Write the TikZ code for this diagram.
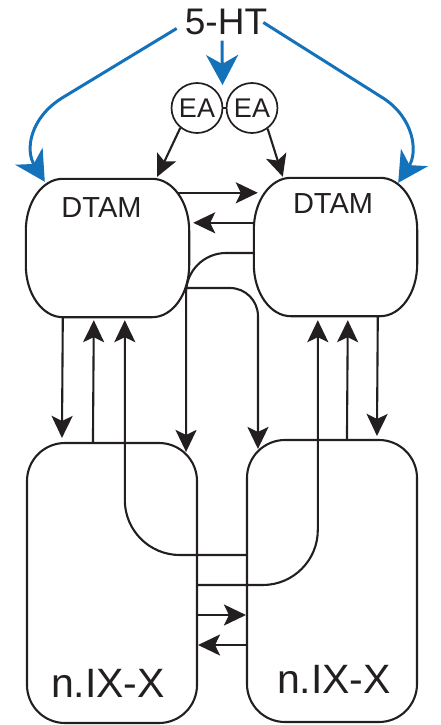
\documentclass[tikz,border=0pt]{standalone}
\usepackage{fontspec}
\setmainfont{Liberation Sans}
\usetikzlibrary{arrows.meta,shapes.geometric,calc}
\definecolor{ink}{RGB}{35,31,32}
\definecolor{htblue}{RGB}{20,114,187}

% outline of a DTAM box: flat top and bottom, elliptical corners
\newcommand\dtamoutline[1]{%
  \draw[line] ([xshift=37pt]#1.north west) -- ([xshift=-37pt]#1.north east)
    arc[start angle=90,end angle=0,x radius=37pt,y radius=52pt]
    -- ([yshift=52pt]#1.south east)
    arc[start angle=0,end angle=-90,x radius=37pt,y radius=52pt]
    -- ([xshift=37pt]#1.south west)
    arc[start angle=270,end angle=180,x radius=37pt,y radius=52pt]
    -- ([yshift=-52pt]#1.north west)
    arc[start angle=180,end angle=90,x radius=37pt,y radius=52pt] -- cycle;}

\begin{document}
\begin{tikzpicture}[x=1pt,y=-1pt,
  line/.style={line width=2.1pt, draw=ink},
  arr/.style={line, -{Stealth[length=22pt,width=21pt,inset=5pt]}},
  bluearr/.style={line width=3pt, draw=htblue, -{Stealth[length=30pt,width=32pt,inset=9pt]}},
  area/.style={inner sep=0pt, draw=none, rectangle},
  ea/.style={ellipse, draw=ink, line width=1.7pt, minimum width=47pt, minimum height=50pt,
    inner sep=0pt, font=\fontsize{27}{29}\selectfont, text=ink},
  lbl/.style={anchor=base, inner sep=0pt, text=ink}]
\useasboundingbox (0,0) rectangle (440,725);

% box regions
\node[area, minimum width=163pt, minimum height=138pt] (DL) at (107.5,248) {};
\node[area, minimum width=163pt, minimum height=138pt] (DR) at (335.5,247) {};
\node[area, line, draw=ink, rounded corners=38pt, minimum width=170pt, minimum height=280pt] (NL) at (112,583) {};
\node[area, line, draw=ink, rounded corners=38pt, minimum width=170pt, minimum height=282pt] (NR) at (332,581) {};
\dtamoutline{DL}
\dtamoutline{DR}

% labels
\node[lbl, font=\fontsize{29}{32}\selectfont] (tDL) at (101.5,217) {DTAM};
\node[lbl, font=\fontsize{29}{32}\selectfont] (tDR) at (333,213) {DTAM};
\node[lbl, font=\fontsize{41}{45}\selectfont] (tNL) at (108,697) {n.IX-X};
\node[lbl, font=\fontsize{41}{45}\selectfont] (tNR) at (334,693) {n.IX-X};
\node[lbl, font=\fontsize{37}{40}\selectfont] (ht) at (226,35) {5-HT};

% EA pair
\node[ea] (EA1) at (197,108) {EA};
\node[ea] (EA2) at (252,108) {EA};
\draw[line, line width=1.7pt] (EA1) -- (EA2);
\coordinate (EAtop) at ($(EA1)!0.5!(EA2)+(-2,-23)$);

% serotonin inputs
\draw[bluearr] ([xshift=-8pt,yshift=-6pt]ht.west) -- (62,98)
  .. controls (30,118) and (25,150) .. ($(DL.north west)+(19,3)$);
\draw[bluearr] ([xshift=-4pt]ht.east) -- (383,98)
  .. controls (414,118) and (418,152) .. ($(DR.north east)+(-19,5)$);
\draw[bluearr] ([xshift=-4pt,yshift=-5pt]ht.south) -- (EAtop);

% EA to DTAM
\draw[arr] (EA1.230) -- ($(DL.north east)+(-32,-2)$);
\draw[arr] (EA2.307) -- ($(DR.north west)+(29,-1)$);

% DTAM <-> DTAM
\draw[arr] ($(DL.north east)+(-12,14)$) -- ($(DR.north west)+(4,15)$);
\draw[arr] ($(DR.north west)+(1,45)$) -- ($(DL.north east)+(4,44)$);

% crossed descending paths
\draw[arr, rounded corners=40pt] ($(DR.west)+(0,6)$) -| ($(NL.north east)+(-12,10)$);
\draw[arr, rounded corners=28pt] ($(DL.east)+(-3,40)$) -| ($(NR.north west)+(12,10)$);

% crossed ascending paths
\draw[arr, rounded corners=55pt] ($(NR.west)+(0,-26)$) -| ($(DL.south west)+(99,3)$);
\draw[arr, rounded corners=55pt] ($(NL.east)+(0,2)$) -| ($(DR.south west)+(64,4)$);

% vertical links, left column
\draw[arr] ($(DL.south west)+(37,0)$) -- ($(NL.north west)+(36,-4)$);
\draw[arr] ($(NL.north west)+(67,0)$) -- ($(DL.south west)+(68,3)$);

% vertical links, right column
\draw[arr] ($(NR.north west)+(101,0)$) -- ($(DR.south west)+(94,4)$);
\draw[arr] ($(DR.south west)+(124,0)$) -- ($(NR.north west)+(131,-3)$);

% n.IX-X <-> n.IX-X
\draw[arr] ($(NL.east)+(0,32)$) -- ($(NR.west)+(0,34)$);
\draw[arr] ($(NR.west)+(0,64)$) -- ($(NL.east)+(0,62)$);
\end{tikzpicture}
\end{document}
